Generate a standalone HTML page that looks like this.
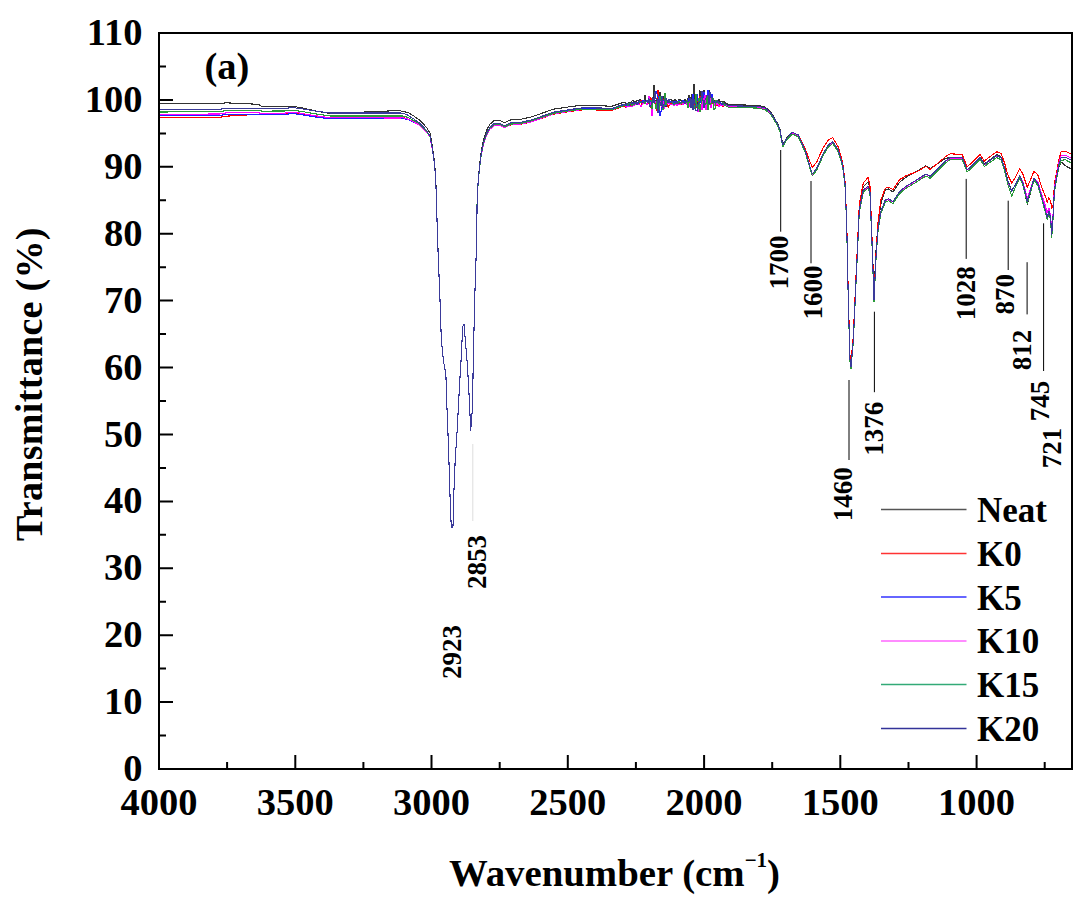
<!DOCTYPE html>
<html><head><meta charset="utf-8"><style>
html,body{margin:0;padding:0;background:#fff;}
svg{display:block;}
text{font-family:"Liberation Serif",serif;font-weight:bold;fill:#000;}
</style></head><body>
<svg width="1092" height="900" viewBox="0 0 1092 900">
<rect x="0" y="0" width="1092" height="900" fill="#fff"/>

<g fill="none" stroke-width="1.1" stroke-linejoin="round" shape-rendering="crispEdges">
<path d="M159.0,103.8 220.0,103.8 226.0,102.8 258.0,104.3 262.0,106.4 285.0,106.9 292.0,106.2 300.0,107.5 306.0,108.8 315.0,110.8 330.0,113.5 400.0,110.5 403.0,111.7 408.0,112.3 413.3,115.7 420.0,120.3 426.7,127.7 430.0,133.0 432.0,144.3 434.0,158.2 435.3,171.9 436.3,192.2 437.0,219.1 438.0,249.4 440.0,300.0 441.3,340.0 443.5,361.3 445.9,374.7 446.7,401.0 448.5,446.7 449.9,492.0 450.8,518.0 451.4,527.0 452.9,527.0 453.4,518.0 453.9,492.0 455.2,460.0 457.3,428.0 459.5,385.3 461.3,356.0 462.7,326.7 464.0,324.0 465.3,340.0 467.5,366.7 469.3,398.7 470.7,431.0 472.5,406.7 473.3,358.7 474.7,300.0 476.0,260.0 476.7,239.7 477.1,200.5 478.2,180.0 479.8,163.7 481.3,150.6 483.7,139.0 486.8,129.7 489.9,124.2 494.5,120.3 499.2,120.3 504.7,122.7 510.1,120.0 519.4,119.6 530.3,117.2 540.0,114.0 553.3,109.2 570.0,106.7 582.6,105.2 600.0,105.7 611.9,106.3 620.0,103.5 625.0,102.0 626.0,104.3 627.0,104.1 628.0,103.1 629.0,102.4 630.0,102.0 631.0,102.4 632.0,101.1 633.0,100.5 634.0,101.9 635.0,101.6 636.0,101.9 637.0,100.3 638.0,101.1 639.0,100.8 640.0,99.2 641.0,101.1 642.0,100.8 643.0,102.7 644.0,100.4 645.0,95.0 646.0,101.2 647.0,100.1 648.0,103.1 649.0,98.6 650.0,100.6 651.0,103.4 652.0,102.2 653.0,100.2 654.0,84.7 655.0,101.2 656.0,99.9 657.0,102.1 658.0,100.3 659.0,103.3 660.0,92.5 661.0,100.3 662.0,102.0 663.0,96.0 664.0,98.5 665.0,98.2 666.0,107.0 667.0,100.1 668.0,101.0 669.0,101.0 670.0,100.2 671.0,99.0 672.0,101.7 673.0,100.4 674.0,101.6 675.0,99.7 676.0,100.5 677.0,102.1 678.0,102.2 679.0,99.4 680.0,99.3 681.0,100.6 682.0,101.3 683.0,100.6 684.0,100.7 685.0,99.3 686.0,100.9 687.0,101.3 688.0,98.7 689.0,95.5 690.0,97.6 691.0,102.4 692.0,94.4 693.0,99.6 694.0,83.9 695.0,99.4 696.0,99.0 697.0,99.8 698.0,104.5 699.0,101.0 700.0,90.7 701.0,99.2 702.0,98.1 703.0,100.8 704.0,90.5 705.0,99.4 706.0,100.1 707.0,95.8 708.0,101.3 709.0,90.0 710.0,92.2 711.0,99.5 712.0,97.2 713.0,98.8 714.0,100.1 715.0,104.7 716.0,101.1 717.0,100.9 718.0,101.4 719.0,99.4 720.0,102.7 721.0,101.0 722.0,102.1 723.0,101.4 724.0,101.7 725.0,102.8 729.0,104.6 740.0,104.9 758.4,105.4 765.0,107.1 770.0,111.2 773.3,116.0 777.5,123.4 780.0,129.5 782.7,144.6 786.7,138.0 792.3,132.1 798.3,135.0 805.0,150.0 810.0,166.7 812.3,174.0 816.7,168.3 823.3,153.3 828.3,145.0 832.7,141.7 838.3,150.0 842.7,165.0 845.0,183.3 846.7,223.0 848.3,299.4 850.0,359.0 851.0,365.6 853.3,338.4 856.7,264.5 859.3,207.3 863.3,186.5 868.2,181.8 870.0,187.3 872.3,245.0 874.0,294.7 876.0,251.0 878.1,221.9 880.9,203.7 885.3,189.9 888.6,189.0 893.0,191.9 899.6,182.2 906.2,177.1 917.1,171.0 925.9,165.8 930.3,168.4 936.9,164.0 945.7,158.3 950.1,157.7 962.2,158.4 967.1,169.6 969.9,167.4 980.0,157.2 984.4,163.8 988.9,160.4 996.7,154.7 1001.1,156.9 1004.4,167.0 1007.8,180.5 1011.7,190.7 1015.6,184.2 1019.8,175.6 1023.3,185.8 1027.2,204.1 1030.6,192.2 1033.9,179.7 1037.8,183.8 1042.2,198.9 1045.6,211.1 1047.2,217.8 1048.9,211.1 1050.6,217.8 1051.7,234.4 1053.3,212.2 1054.4,190.0 1056.7,177.8 1058.9,167.0 1061.1,161.9 1065.6,165.8 1071.0,169.0" stroke="#333"/>
<path d="M159.0,117.5 220.0,117.3 226.0,116.2 258.0,114.3 262.0,114.9 285.0,114.1 292.0,113.0 300.0,113.8 306.0,114.7 315.0,116.1 330.0,118.0 400.0,117.7 403.0,117.6 408.0,118.9 413.3,121.6 420.0,125.3 426.7,132.0 430.0,137.0 432.0,147.5 434.0,160.6 435.3,173.8 436.3,193.7 437.0,220.3 438.0,250.2 440.0,300.0 441.3,340.0 443.5,361.3 445.9,374.7 446.7,401.0 448.5,446.7 449.9,492.0 450.8,518.0 451.4,527.0 452.9,527.0 453.4,518.0 453.9,492.0 455.2,460.0 457.3,428.0 459.5,385.3 461.3,356.0 462.7,326.7 464.0,324.0 465.3,340.0 467.5,366.7 469.3,398.7 470.7,431.0 472.5,406.7 473.3,358.7 474.7,300.0 476.0,260.0 476.7,240.2 477.1,201.3 478.2,181.5 479.8,166.4 481.3,154.4 483.7,144.0 486.8,134.7 489.9,129.2 494.5,125.3 499.2,125.3 504.7,127.7 510.1,125.0 519.4,124.6 530.3,122.2 540.0,119.0 553.3,114.2 570.0,111.5 582.6,109.8 600.0,110.0 611.9,110.3 620.0,107.4 625.0,105.8 626.0,107.9 627.0,105.9 628.0,106.3 629.0,105.9 630.0,106.1 631.0,104.5 632.0,104.8 633.0,104.2 634.0,103.6 635.0,103.7 636.0,103.8 637.0,103.9 638.0,103.1 639.0,104.3 640.0,103.2 641.0,100.4 642.0,104.6 643.0,102.9 644.0,102.4 645.0,103.3 646.0,103.2 647.0,103.0 648.0,99.9 649.0,103.5 650.0,97.5 651.0,107.9 652.0,98.3 653.0,102.0 654.0,102.8 655.0,103.4 656.0,101.8 657.0,110.6 658.0,89.8 659.0,101.7 660.0,101.5 661.0,100.6 662.0,107.6 663.0,98.9 664.0,102.2 665.0,95.4 666.0,103.6 667.0,101.4 668.0,107.3 669.0,105.6 670.0,104.1 671.0,103.5 672.0,103.7 673.0,102.2 674.0,102.7 675.0,104.3 676.0,101.7 677.0,104.0 678.0,101.9 679.0,103.7 680.0,102.4 681.0,105.2 682.0,104.4 683.0,102.8 684.0,101.4 685.0,102.4 686.0,103.1 687.0,102.1 688.0,103.6 689.0,105.9 690.0,102.4 691.0,101.1 692.0,105.1 693.0,101.5 694.0,105.2 695.0,101.4 696.0,107.6 697.0,101.4 698.0,98.9 699.0,102.6 700.0,96.7 701.0,99.2 702.0,101.8 703.0,104.6 704.0,95.1 705.0,101.9 706.0,101.7 707.0,101.8 708.0,108.8 709.0,98.3 710.0,104.8 711.0,102.0 712.0,103.3 713.0,102.3 714.0,102.1 715.0,101.6 716.0,104.7 717.0,105.9 718.0,105.0 719.0,105.0 720.0,104.9 721.0,104.3 722.0,105.2 723.0,106.3 724.0,104.4 725.0,105.2 729.0,107.0 740.0,107.1 758.4,107.4 765.0,108.9 770.0,112.8 773.3,117.4 777.5,124.6 780.0,130.5 782.7,145.4 786.7,138.6 792.3,132.5 798.3,135.0 805.0,148.3 810.0,161.7 812.3,167.5 816.7,162.0 823.3,147.5 828.3,140.1 832.7,137.6 838.3,146.9 842.7,162.6 845.0,181.3 846.7,220.8 848.3,297.1 850.0,356.7 851.0,363.1 853.3,335.8 856.7,261.6 859.3,204.2 863.3,182.8 868.2,177.5 870.0,186.0 872.3,245.5 874.0,296.7 876.0,254.7 878.1,221.0 880.9,199.9 885.3,188.3 888.6,187.1 893.0,189.7 899.6,179.6 906.2,175.7 917.1,171.6 925.9,166.4 930.3,169.4 936.9,163.9 945.7,156.6 950.1,153.8 962.2,154.4 967.1,166.6 969.9,164.4 980.0,154.4 984.4,161.0 988.9,157.5 996.7,151.7 1001.1,153.5 1004.4,162.5 1007.8,174.8 1011.7,183.2 1015.6,176.9 1019.8,168.6 1023.3,175.0 1027.2,187.3 1030.6,179.6 1033.9,171.2 1037.8,174.9 1042.2,188.7 1045.6,196.8 1047.2,202.1 1048.9,197.6 1050.6,200.9 1051.7,208.4 1053.3,204.2 1054.4,183.6 1056.7,172.4 1058.9,159.2 1061.1,151.8 1065.6,151.2 1071.0,154.0" stroke="#ff0000"/>
<path d="M159.0,115.8 220.0,115.5 226.0,114.4 258.0,114.2 262.0,114.9 285.0,114.5 292.0,113.5 300.0,114.4 306.0,115.4 315.0,116.9 330.0,118.9 400.0,118.8 403.0,118.5 408.0,119.6 413.3,122.0 420.0,125.3 426.7,132.0 430.0,137.0 432.0,147.5 434.0,160.6 435.3,173.8 436.3,193.7 437.0,220.3 438.0,250.2 440.0,300.0 441.3,340.0 443.5,361.3 445.9,374.7 446.7,401.0 448.5,446.7 449.9,492.0 450.8,518.0 451.4,527.0 452.9,527.0 453.4,518.0 453.9,492.0 455.2,460.0 457.3,428.0 459.5,385.3 461.3,356.0 462.7,326.7 464.0,324.0 465.3,340.0 467.5,366.7 469.3,398.7 470.7,431.0 472.5,406.7 473.3,358.7 474.7,300.0 476.0,260.0 476.7,240.2 477.1,201.2 478.2,181.4 479.8,166.1 481.3,154.0 483.7,143.5 486.8,134.2 489.9,128.7 494.5,124.8 499.2,124.7 504.7,127.1 510.1,124.4 519.4,123.9 530.3,121.5 540.0,118.3 553.3,113.4 570.0,110.6 582.6,108.9 600.0,109.0 611.9,109.3 620.0,106.3 625.0,104.8 626.0,105.6 627.0,106.0 628.0,104.5 629.0,105.4 630.0,104.5 631.0,104.2 632.0,106.1 633.0,104.1 634.0,103.7 635.0,104.2 636.0,104.5 637.0,103.2 638.0,103.6 639.0,101.9 640.0,102.4 641.0,102.2 642.0,101.1 643.0,100.8 644.0,100.5 645.0,101.8 646.0,101.8 647.0,101.6 648.0,102.1 649.0,97.2 650.0,101.6 651.0,102.6 652.0,104.4 653.0,98.8 654.0,100.3 655.0,94.6 656.0,91.6 657.0,93.9 658.0,96.6 659.0,105.4 660.0,115.5 661.0,111.6 662.0,102.8 663.0,100.7 664.0,103.5 665.0,103.8 666.0,105.8 667.0,102.0 668.0,101.7 669.0,101.8 670.0,101.5 671.0,102.6 672.0,101.9 673.0,103.9 674.0,101.0 675.0,101.9 676.0,102.0 677.0,100.8 678.0,104.7 679.0,100.3 680.0,102.4 681.0,102.1 682.0,104.2 683.0,100.5 684.0,103.5 685.0,101.6 686.0,102.1 687.0,101.5 688.0,104.2 689.0,98.4 690.0,101.7 691.0,103.1 692.0,107.8 693.0,94.2 694.0,106.7 695.0,104.9 696.0,100.3 697.0,93.8 698.0,100.2 699.0,107.0 700.0,102.3 701.0,100.9 702.0,100.9 703.0,100.9 704.0,92.5 705.0,98.7 706.0,108.2 707.0,95.6 708.0,90.3 709.0,101.6 710.0,101.6 711.0,103.4 712.0,94.3 713.0,101.9 714.0,103.6 715.0,105.8 716.0,101.3 717.0,102.5 718.0,104.9 719.0,103.7 720.0,102.4 721.0,105.0 722.0,104.3 723.0,103.7 724.0,103.6 725.0,104.0 729.0,105.8 740.0,106.0 758.4,106.4 765.0,108.0 770.0,112.0 773.3,116.7 777.5,124.0 780.0,130.0 782.7,145.0 786.7,138.3 792.3,132.3 798.3,135.0 805.0,150.0 810.0,166.7 812.3,174.0 816.7,168.3 823.3,153.3 828.3,145.0 832.7,141.7 838.3,150.0 842.7,165.0 845.0,183.3 846.7,223.3 848.3,300.0 850.0,360.0 851.0,366.7 853.3,340.0 856.7,266.7 859.3,210.0 863.3,190.0 868.2,186.2 870.0,192.0 872.3,250.0 874.0,300.0 876.0,256.7 878.1,228.0 880.9,211.4 885.3,199.9 888.6,198.8 893.0,201.5 899.6,191.6 906.2,186.2 917.1,179.6 925.9,174.0 930.3,176.3 936.9,169.7 945.7,160.9 950.1,157.6 962.2,157.6 967.1,169.7 969.9,167.5 980.0,157.6 984.4,164.4 988.9,161.1 996.7,155.6 1001.1,157.8 1004.4,167.8 1007.8,181.1 1011.7,191.1 1015.6,184.4 1019.8,175.6 1023.3,184.4 1027.2,201.1 1030.6,190.0 1033.9,178.3 1037.8,183.3 1042.2,198.9 1045.6,211.1 1047.2,217.8 1048.9,211.1 1050.6,217.8 1051.7,234.4 1053.3,212.2 1054.4,190.0 1056.7,176.7 1058.9,164.4 1061.1,157.8 1065.6,157.2 1071.0,160.0" stroke="#2020ff"/>
<path d="M159.0,114.3 220.0,114.0 226.0,112.9 258.0,112.7 262.0,113.4 285.0,113.1 292.0,112.1 300.0,113.1 306.0,114.2 315.0,115.7 330.0,117.8 400.0,118.0 403.0,117.8 408.0,119.1 413.3,121.7 420.0,125.3 426.7,132.0 430.0,137.0 432.0,147.5 434.0,160.6 435.3,173.8 436.3,193.7 437.0,220.3 438.0,250.2 440.0,300.0 441.3,340.0 443.5,361.3 445.9,374.7 446.7,401.0 448.5,446.7 449.9,492.0 450.8,518.0 451.4,527.0 452.9,527.0 453.4,518.0 453.9,492.0 455.2,460.0 457.3,428.0 459.5,385.3 461.3,356.0 462.7,326.7 464.0,324.0 465.3,340.0 467.5,366.7 469.3,398.7 470.7,431.0 472.5,406.7 473.3,358.7 474.7,300.0 476.0,260.0 476.7,240.2 477.1,201.3 478.2,181.5 479.8,166.4 481.3,154.4 483.7,144.0 486.8,134.7 489.9,129.2 494.5,125.3 499.2,125.2 504.7,127.6 510.1,124.9 519.4,124.4 530.3,122.0 540.0,118.8 553.3,113.9 570.0,111.1 582.6,109.4 600.0,109.5 611.9,109.9 620.0,106.9 625.0,105.4 626.0,107.0 627.0,107.1 628.0,106.3 629.0,106.5 630.0,106.7 631.0,106.1 632.0,107.2 633.0,104.6 634.0,105.3 635.0,104.3 636.0,104.1 637.0,104.5 638.0,104.8 639.0,104.8 640.0,104.8 641.0,106.3 642.0,104.8 643.0,102.2 644.0,103.9 645.0,102.9 646.0,103.0 647.0,104.7 648.0,102.6 649.0,96.5 650.0,104.4 651.0,102.3 652.0,116.3 653.0,100.0 654.0,101.0 655.0,103.1 656.0,101.6 657.0,103.4 658.0,109.5 659.0,100.2 660.0,100.2 661.0,102.2 662.0,107.0 663.0,100.8 664.0,108.4 665.0,98.9 666.0,100.0 667.0,103.6 668.0,102.9 669.0,103.3 670.0,104.5 671.0,104.8 672.0,104.3 673.0,104.0 674.0,105.7 675.0,104.9 676.0,104.2 677.0,105.6 678.0,103.4 679.0,104.4 680.0,104.8 681.0,104.1 682.0,103.5 683.0,104.3 684.0,103.4 685.0,103.2 686.0,102.7 687.0,105.0 688.0,101.9 689.0,107.3 690.0,98.5 691.0,102.6 692.0,105.6 693.0,104.3 694.0,103.8 695.0,98.9 696.0,103.5 697.0,106.1 698.0,112.2 699.0,106.4 700.0,107.9 701.0,104.4 702.0,109.4 703.0,98.2 704.0,102.3 705.0,94.9 706.0,110.1 707.0,103.5 708.0,108.7 709.0,102.3 710.0,97.1 711.0,107.8 712.0,99.5 713.0,99.9 714.0,103.5 715.0,106.2 716.0,102.6 717.0,104.6 718.0,102.6 719.0,106.4 720.0,104.9 721.0,105.2 722.0,105.7 723.0,105.7 724.0,105.9 725.0,105.1 729.0,106.9 740.0,107.1 758.4,107.4 765.0,109.0 770.0,113.0 773.3,117.6 777.5,124.9 780.0,130.9 782.7,145.9 786.7,139.2 792.3,133.2 798.3,135.8 805.0,150.8 810.0,167.5 812.3,174.8 816.7,169.1 823.3,154.0 828.3,145.7 832.7,142.4 838.3,150.7 842.7,165.7 845.0,183.9 846.7,223.9 848.3,300.6 850.0,360.6 851.0,367.3 853.3,340.6 856.7,267.3 859.3,210.6 863.3,190.6 868.2,186.7 870.0,192.5 872.3,250.5 874.0,300.5 876.0,257.2 878.1,228.5 880.9,211.9 885.3,200.4 888.6,199.3 893.0,202.0 899.6,192.1 906.2,186.7 917.1,180.1 925.9,174.5 930.3,176.8 936.9,170.2 945.7,161.4 950.1,158.1 962.2,158.1 967.1,170.1 969.9,167.9 980.0,157.9 984.4,164.7 988.9,161.4 996.7,155.8 1001.1,158.0 1004.4,167.9 1007.8,181.2 1011.7,191.2 1015.6,184.4 1019.8,175.6 1023.3,183.0 1027.2,198.2 1030.6,188.5 1033.9,178.3 1037.8,181.8 1042.2,195.7 1045.6,206.6 1047.2,213.0 1048.9,208.0 1050.6,215.8 1051.7,232.4 1053.3,210.2 1054.4,188.0 1056.7,174.7 1058.9,162.4 1061.1,155.8 1065.6,155.2 1071.0,158.0" stroke="#ff00ff"/>
<path d="M159.0,112.0 220.0,111.7 226.0,110.6 258.0,110.4 262.0,111.1 285.0,111.0 292.0,110.1 300.0,111.2 306.0,112.2 315.0,113.8 330.0,116.0 400.0,116.0 403.0,116.0 408.0,117.5 413.3,120.4 420.0,124.3 426.7,131.4 430.0,136.5 432.0,147.1 434.0,160.3 435.3,173.5 436.3,193.5 437.0,220.2 438.0,250.1 440.0,300.0 441.3,340.0 443.5,361.3 445.9,374.7 446.7,401.0 448.5,446.7 449.9,492.0 450.8,518.0 451.4,527.0 452.9,527.0 453.4,518.0 453.9,492.0 455.2,460.0 457.3,428.0 459.5,385.3 461.3,356.0 462.7,326.7 464.0,324.0 465.3,340.0 467.5,366.7 469.3,398.7 470.7,431.0 472.5,406.7 473.3,358.7 474.7,300.0 476.0,260.0 476.7,240.1 477.1,201.2 478.2,181.2 479.8,165.8 481.3,153.7 483.7,143.0 486.8,133.7 489.9,128.2 494.5,124.3 499.2,124.3 504.7,126.8 510.1,124.1 519.4,123.7 530.3,121.3 540.0,118.1 553.3,113.4 570.0,110.7 582.6,109.1 600.0,109.3 611.9,109.7 620.0,106.8 625.0,105.4 626.0,104.8 627.0,104.6 628.0,105.5 629.0,103.5 630.0,104.5 631.0,103.0 632.0,105.3 633.0,104.1 634.0,105.1 635.0,103.0 636.0,103.7 637.0,102.9 638.0,102.3 639.0,103.0 640.0,101.5 641.0,102.2 642.0,103.1 643.0,102.4 644.0,101.7 645.0,104.2 646.0,102.0 647.0,101.3 648.0,102.5 649.0,100.0 650.0,100.5 651.0,100.6 652.0,108.9 653.0,101.8 654.0,102.3 655.0,104.0 656.0,108.7 657.0,100.8 658.0,99.4 659.0,110.2 660.0,96.4 661.0,100.3 662.0,104.0 663.0,109.8 664.0,106.9 665.0,93.5 666.0,104.4 667.0,101.7 668.0,101.9 669.0,102.9 670.0,102.7 671.0,102.9 672.0,102.3 673.0,104.1 674.0,104.4 675.0,103.0 676.0,102.5 677.0,103.6 678.0,103.3 679.0,101.7 680.0,102.2 681.0,103.6 682.0,102.4 683.0,102.1 684.0,102.6 685.0,102.3 686.0,102.3 687.0,100.3 688.0,107.7 689.0,102.7 690.0,99.2 691.0,105.1 692.0,102.9 693.0,102.0 694.0,105.2 695.0,109.1 696.0,93.8 697.0,106.8 698.0,108.6 699.0,98.4 700.0,111.7 701.0,104.1 702.0,96.1 703.0,100.7 704.0,105.7 705.0,104.8 706.0,103.5 707.0,95.7 708.0,109.4 709.0,103.7 710.0,104.5 711.0,103.8 712.0,96.8 713.0,97.8 714.0,109.5 715.0,108.8 716.0,100.1 717.0,102.6 718.0,102.7 719.0,103.8 720.0,103.9 721.0,103.8 722.0,103.1 723.0,102.2 724.0,104.4 725.0,105.6 729.0,107.4 740.0,107.6 758.4,108.1 765.0,109.7 770.0,113.7 773.3,118.4 777.5,125.7 780.0,131.7 782.7,146.8 786.7,140.1 792.3,134.1 798.3,136.8 805.0,151.8 810.0,168.5 812.3,175.8 816.7,170.1 823.3,155.2 828.3,146.9 832.7,143.6 838.3,151.9 842.7,166.9 845.0,185.2 846.7,225.2 848.3,301.9 850.0,361.9 851.0,368.6 853.3,341.9 856.7,268.6 859.3,211.9 863.3,192.0 868.2,188.2 870.0,194.0 872.3,252.0 874.0,302.0 876.0,258.7 878.1,230.0 880.9,213.4 885.3,201.9 888.6,200.8 893.0,203.5 899.6,193.6 906.2,188.2 917.1,181.6 925.9,176.0 930.3,178.3 936.9,171.7 945.7,162.9 950.1,159.6 962.2,159.6 967.1,171.7 969.9,169.5 980.0,159.6 984.4,166.4 988.9,163.1 996.7,157.6 1001.1,159.8 1004.4,169.8 1007.8,184.4 1011.7,196.1 1015.6,186.7 1019.8,177.6 1023.3,186.4 1027.2,203.1 1030.6,192.0 1033.9,180.3 1037.8,185.3 1042.2,200.9 1045.6,213.1 1047.2,219.8 1048.9,213.1 1050.6,220.3 1051.7,237.9 1053.3,215.0 1054.4,192.3 1056.7,178.8 1058.9,166.6 1061.1,160.2 1065.6,159.8 1071.0,162.9" stroke="#2a9a3a"/>
<path d="M159.0,109.3 220.0,109.3 226.0,108.2 258.0,108.2 262.0,108.9 285.0,108.5 292.0,107.5 300.0,108.5 306.0,109.5 315.0,111.0 330.0,113.0 400.0,113.0 403.0,113.3 408.0,115.3 413.3,118.7 420.0,123.3 426.7,130.7 430.0,136.0 432.0,146.7 434.0,160.0 435.3,173.3 436.3,193.3 437.0,220.0 438.0,250.0 440.0,300.0 441.3,340.0 443.5,361.3 445.9,374.7 446.7,401.0 448.5,446.7 449.9,492.0 450.8,518.0 451.4,527.0 452.9,527.0 453.4,518.0 453.9,492.0 455.2,460.0 457.3,428.0 459.5,385.3 461.3,356.0 462.7,326.7 464.0,324.0 465.3,340.0 467.5,366.7 469.3,398.7 470.7,431.0 472.5,406.7 473.3,358.7 474.7,300.0 476.0,260.0 476.7,240.0 477.1,201.0 478.2,180.9 479.8,165.3 481.3,152.9 483.7,142.0 486.8,132.7 489.9,127.2 494.5,123.3 499.2,123.3 504.7,125.7 510.1,123.0 519.4,122.6 530.3,120.2 540.0,117.0 553.3,112.2 570.0,109.5 582.6,107.8 600.0,108.0 611.9,108.4 620.0,105.5 625.0,104.0 626.0,105.3 627.0,103.7 628.0,104.1 629.0,104.4 630.0,105.0 631.0,103.9 632.0,102.0 633.0,103.8 634.0,102.0 635.0,104.2 636.0,102.6 637.0,104.5 638.0,102.4 639.0,101.4 640.0,100.8 641.0,101.7 642.0,102.4 643.0,103.0 644.0,101.9 645.0,100.8 646.0,102.0 647.0,100.0 648.0,103.2 649.0,98.7 650.0,106.6 651.0,104.8 652.0,102.5 653.0,97.7 654.0,103.1 655.0,92.2 656.0,99.2 657.0,98.9 658.0,113.1 659.0,99.6 660.0,102.6 661.0,106.0 662.0,96.0 663.0,107.6 664.0,104.9 665.0,99.2 666.0,98.3 667.0,100.5 668.0,102.7 669.0,99.3 670.0,102.9 671.0,102.3 672.0,101.5 673.0,101.8 674.0,102.0 675.0,102.3 676.0,103.3 677.0,101.5 678.0,103.4 679.0,103.2 680.0,101.9 681.0,102.7 682.0,101.5 683.0,102.0 684.0,102.4 685.0,103.8 686.0,101.7 687.0,101.5 688.0,101.7 689.0,101.0 690.0,98.0 691.0,107.5 692.0,99.4 693.0,109.4 694.0,99.1 695.0,103.5 696.0,110.8 697.0,111.0 698.0,104.4 699.0,102.3 700.0,101.1 701.0,97.9 702.0,91.1 703.0,100.8 704.0,107.7 705.0,100.1 706.0,97.9 707.0,95.3 708.0,95.6 709.0,103.4 710.0,92.6 711.0,98.0 712.0,96.9 713.0,102.8 714.0,100.9 715.0,102.9 716.0,102.2 717.0,101.6 718.0,100.8 719.0,102.8 720.0,103.0 721.0,103.3 722.0,103.9 723.0,104.1 724.0,103.5 725.0,104.0 729.0,105.8 740.0,106.0 758.4,106.4 765.0,108.0 770.0,112.0 773.3,116.7 777.5,124.0 780.0,130.0 782.7,145.0 786.7,138.3 792.3,132.3 798.3,135.0 805.0,150.0 810.0,166.7 812.3,174.0 816.7,168.3 823.3,153.3 828.3,145.0 832.7,141.7 838.3,150.0 842.7,165.0 845.0,183.3 846.7,223.3 848.3,300.0 850.0,360.0 851.0,366.7 853.3,340.0 856.7,266.7 859.3,210.0 863.3,190.0 868.2,186.2 870.0,192.0 872.3,250.0 874.0,300.0 876.0,256.7 878.1,228.0 880.9,211.4 885.3,199.9 888.6,198.8 893.0,201.5 899.6,191.6 906.2,186.2 917.1,179.6 925.9,174.0 930.3,176.3 936.9,169.7 945.7,160.9 950.1,157.6 962.2,157.6 967.1,169.7 969.9,167.5 980.0,157.6 984.4,164.4 988.9,161.1 996.7,155.6 1001.1,157.8 1004.4,167.8 1007.8,181.1 1011.7,191.1 1015.6,184.4 1019.8,175.6 1023.3,184.4 1027.2,201.1 1030.6,190.0 1033.9,178.3 1037.8,183.3 1042.2,198.9 1045.6,211.1 1047.2,217.8 1048.9,211.1 1050.6,217.8 1051.7,234.4 1053.3,212.2 1054.4,190.0 1056.7,176.7 1058.9,164.4 1061.1,157.8 1065.6,157.2 1071.0,160.0" stroke="#3a3a9a"/>
</g>
<rect x="159" y="33" width="913" height="736" fill="none" stroke="#000" stroke-width="2"/>
<path d="M160,735.5h6 M160,702.1h13 M160,668.6h6 M160,635.2h13 M160,601.7h6 M160,568.3h13 M160,534.8h6 M160,501.4h13 M160,467.9h6 M160,434.5h13 M160,401.0h6 M160,367.5h13 M160,334.1h6 M160,300.6h13 M160,267.2h6 M160,233.7h13 M160,200.3h6 M160,166.8h13 M160,133.4h6 M160,99.9h13 M160,66.5h6 M227.1,768v-6 M295.3,768v-13 M363.4,768v-6 M431.5,768v-13 M499.7,768v-6 M567.8,768v-13 M635.9,768v-6 M704.1,768v-13 M772.2,768v-6 M840.3,768v-13 M908.5,768v-6 M976.6,768v-13 M1044.7,768v-6" stroke="#000" stroke-width="2" fill="none"/>
<g font-size="38.5" text-anchor="end">
<text x="142.5" y="781.0">0</text>
<text x="142.5" y="714.1">10</text>
<text x="142.5" y="647.2">20</text>
<text x="142.5" y="580.3">30</text>
<text x="142.5" y="513.4">40</text>
<text x="142.5" y="446.5">50</text>
<text x="142.5" y="379.5">60</text>
<text x="142.5" y="312.6">70</text>
<text x="142.5" y="245.7">80</text>
<text x="142.5" y="178.8">90</text>
<text x="142.5" y="111.9">100</text>
<text x="142.5" y="45.0">110</text>
</g>
<g font-size="38.5" text-anchor="middle">
<text x="159.0" y="815">4000</text>
<text x="295.3" y="815">3500</text>
<text x="431.5" y="815">3000</text>
<text x="567.8" y="815">2500</text>
<text x="704.1" y="815">2000</text>
<text x="840.3" y="815">1500</text>
<text x="976.6" y="815">1000</text>
</g>
<text x="449" y="886" font-size="38.8">Wavenumber (cm<tspan font-size="21" dy="-19">&#8722;1</tspan><tspan dy="19">)</tspan></text>
<text transform="translate(41.5,541) rotate(-90)" font-size="38" textLength="313.5" lengthAdjust="spacing">Transmittance (%)</text>
<text x="204.5" y="79.2" font-size="38.5">(a)</text>
<line x1="881" y1="509.6" x2="966.5" y2="509.6" stroke="#555" stroke-width="1.5"/>
<text x="977" y="522.1" font-size="35">Neat</text>
<line x1="881" y1="553.4" x2="966.5" y2="553.4" stroke="#f33" stroke-width="1.5"/>
<text x="977" y="565.9" font-size="35">K0</text>
<line x1="881" y1="597.1" x2="966.5" y2="597.1" stroke="#33f" stroke-width="1.5"/>
<text x="977" y="609.6" font-size="35">K5</text>
<line x1="881" y1="640.9" x2="966.5" y2="640.9" stroke="#f6f" stroke-width="1.5"/>
<text x="977" y="653.4" font-size="35">K10</text>
<line x1="881" y1="684.6" x2="966.5" y2="684.6" stroke="#3a7" stroke-width="1.5"/>
<text x="977" y="697.1" font-size="35">K15</text>
<line x1="881" y1="728.4" x2="966.5" y2="728.4" stroke="#339" stroke-width="1.5"/>
<text x="977" y="740.9" font-size="35">K20</text>
<text transform="translate(460.6,679.1) rotate(-90)" font-size="27">2923</text>
<text transform="translate(486.2,589.1) rotate(-90)" font-size="27">2853</text>
<text transform="translate(788.1,289.6) rotate(-90)" font-size="27">1700</text>
<text transform="translate(822.0,319.6) rotate(-90)" font-size="27">1600</text>
<text transform="translate(852.0,521.3) rotate(-90)" font-size="27">1460</text>
<text transform="translate(883.4,455.7) rotate(-90)" font-size="27">1376</text>
<text transform="translate(975.1,320.2) rotate(-90)" font-size="27">1028</text>
<text transform="translate(1014.0,314.6) rotate(-90)" font-size="27">870</text>
<text transform="translate(1031.0,370.3) rotate(-90)" font-size="27">812</text>
<text transform="translate(1048.5,421.3) rotate(-90)" font-size="27">745</text>
<text transform="translate(1060.5,468.3) rotate(-90)" font-size="27">721</text>
<line x1="472.8" y1="444.0" x2="472.8" y2="521.0" stroke="#ddd" stroke-width="1"/>
<line x1="780.7" y1="150.0" x2="780.7" y2="231.7" stroke="#000" stroke-width="1"/>
<line x1="811.0" y1="181.0" x2="811.0" y2="263.3" stroke="#000" stroke-width="1"/>
<line x1="849.0" y1="380.0" x2="849.0" y2="460.0" stroke="#000" stroke-width="1"/>
<line x1="874.4" y1="311.7" x2="874.4" y2="392.2" stroke="#000" stroke-width="1"/>
<line x1="966.2" y1="178.9" x2="966.2" y2="258.9" stroke="#000" stroke-width="1"/>
<line x1="1008.2" y1="200.7" x2="1008.2" y2="270.0" stroke="#000" stroke-width="1"/>
<line x1="1027.1" y1="262.2" x2="1027.1" y2="314.4" stroke="#000" stroke-width="1"/>
<line x1="1043.6" y1="223.3" x2="1043.6" y2="371.0" stroke="#000" stroke-width="1"/>
</svg></body></html>
